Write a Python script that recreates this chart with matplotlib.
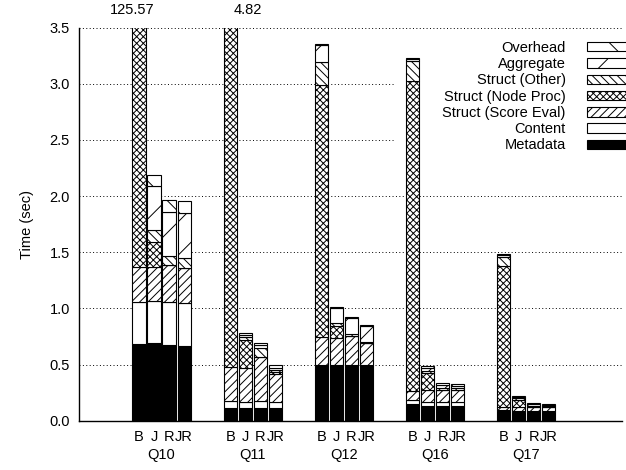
import numpy as np
import matplotlib
matplotlib.use("Agg")
import matplotlib.pyplot as plt
import matplotlib.patches as mpatches
from matplotlib.transforms import blended_transform_factory

plt.rcParams["font.family"] = ["Liberation Sans", "DejaVu Sans"]
plt.rcParams["hatch.linewidth"] = 0.7

queries = ["Q10", "Q11", "Q12", "Q16", "Q17"]
variants = ["B", "J", "R", "JR"]

# seconds per component, one row per query, columns B, J, R, JR
metadata = [[0.680, 0.690, 0.675, 0.667],
            [0.115, 0.110, 0.110, 0.110],
            [0.495, 0.495, 0.500, 0.500],
            [0.145, 0.130, 0.134, 0.130],
            [0.085, 0.080, 0.080, 0.080]]
content = [[0.375, 0.375, 0.385, 0.383],
           [0.060, 0.055, 0.065, 0.060],
           [0.000, 0.000, 0.000, 0.000],
           [0.035, 0.035, 0.035, 0.035],
           [0.010, 0.010, 0.010, 0.010]]
score_eval = [[0.315, 0.305, 0.325, 0.306],
              [0.305, 0.300, 0.389, 0.245],
              [0.252, 0.244, 0.254, 0.189],
              [0.085, 0.105, 0.104, 0.105],
              [0.030, 0.030, 0.030, 0.030]]
node_proc = [[124.200, 0.220, 0.000, 0.000],
             [4.340, 0.252, 0.000, 0.015],
             [2.240, 0.103, 0.000, 0.000],
             [2.756, 0.157, 0.000, 0.000],
             [1.250, 0.066, 0.000, 0.000]]
struct_other = [[0.000, 0.110, 0.080, 0.090],
                [0.000, 0.024, 0.080, 0.020],
                [0.207, 0.024, 0.016, 0.015],
                [0.180, 0.020, 0.020, 0.020],
                [0.080, 0.015, 0.015, 0.010]]
aggregate = [[0.000, 0.390, 0.392, 0.400],
             [0.000, 0.020, 0.029, 0.020],
             [0.149, 0.134, 0.142, 0.140],
             [0.020, 0.025, 0.025, 0.020],
             [0.020, 0.010, 0.010, 0.010]]
overhead = [[0.000, 0.100, 0.110, 0.112],
            [0.000, 0.024, 0.021, 0.025],
            [0.010, 0.014, 0.010, 0.010],
            [0.010, 0.015, 0.014, 0.014],
            [0.010, 0.010, 0.010, 0.010]]

components = [
    ("Metadata", metadata, "black", ""),
    ("Content", content, "white", ""),
    ("Struct (Score Eval)", score_eval, "white", "////"),
    ("Struct (Node Proc)", node_proc, "white", "xxxxx"),
    ("Struct (Other)", struct_other, "white", "\\\\\\\\"),
    ("Aggregate", aggregate, "white", "/"),
    ("Overhead", overhead, "white", "\\"),
]

FS = 10.5
YMAX = 3.5
W, H = 626, 470
fig = plt.figure(figsize=(W / 100, H / 100), dpi=100)
ax = fig.add_axes([79 / W, 1 - 420.7 / H, (622 - 79) / W, 393 / H])

pitch = 0.165
width = 0.146
offsets = (np.arange(len(variants)) - 1.5) * pitch
centers = np.arange(len(queries))

bottom = np.zeros((len(queries), len(variants)))
for name, vals, fc, hatch in components:
    v = np.array(vals)
    for qi in range(len(queries)):
        ax.bar(centers[qi] + offsets, v[qi], width, bottom=bottom[qi],
               color=fc, edgecolor="black", linewidth=0.8, hatch=hatch,
               zorder=2)
    bottom += v

# totals of bars that run past the top of the axis
totals = bottom
trans_top = blended_transform_factory(ax.transData, ax.transAxes)
label_x = {0: -0.324, 1: 0.95}
for qi in range(len(queries)):
    for vi in range(len(variants)):
        if totals[qi, vi] > YMAX:
            ax.text(label_x.get(qi, centers[qi] + offsets[vi]), 1.035,
                    f"{totals[qi, vi]:.2f}", transform=trans_top,
                    ha="center", va="baseline", fontsize=FS)

ax.set_ylim(0, YMAX)
ax.set_xlim(-0.906, 5.05)
ax.set_yticks(np.arange(0, 3.51, 0.5))
ax.set_yticklabels([f"{t:.1f}" for t in np.arange(0, 3.51, 0.5)])
xt = np.concatenate([c + offsets for c in centers])
ax.set_xticks(xt)
ax.set_xticklabels(variants * len(queries))
ax.tick_params(axis="x", length=0, pad=7, labelsize=FS)
ax.tick_params(axis="y", length=0, pad=6.5, labelsize=FS)
for qi, q in enumerate(queries):
    ax.text(centers[qi], -0.0885, q, transform=trans_top, ha="center",
            va="center", fontsize=FS)

ax.set_ylabel("Time (sec)", fontsize=FS, va="center")
ax.yaxis.set_label_coords(-0.095, 0.5)

ax.yaxis.grid(True, color="black", linestyle=(0, (1, 2.5)), linewidth=0.7)
ax.set_axisbelow(True)
for s in ("top", "right"):
    ax.spines[s].set_visible(False)
for s in ("left", "bottom"):
    ax.spines[s].set_linewidth(1.0)

# blank area behind the key
ax.add_patch(mpatches.Rectangle((0.582, 0.689), 0.43, 0.29,
                                transform=ax.transAxes, facecolor="white",
                                edgecolor="none", zorder=1, clip_on=False))

handles = [mpatches.Patch(facecolor=fc, edgecolor="black", linewidth=0.8,
                          hatch=h, label=n)
           for n, _, fc, h in components][::-1]
fig.legend(handles=handles, loc="upper right", bbox_to_anchor=(1.005, 0.913),
           bbox_transform=fig.transFigure, frameon=False, markerfirst=False,
           fontsize=FS, handlelength=2.9, handleheight=0.62,
           handletextpad=1.45, labelspacing=0.155, borderpad=0,
           borderaxespad=0)

fig.savefig("out.png", dpi=100)
